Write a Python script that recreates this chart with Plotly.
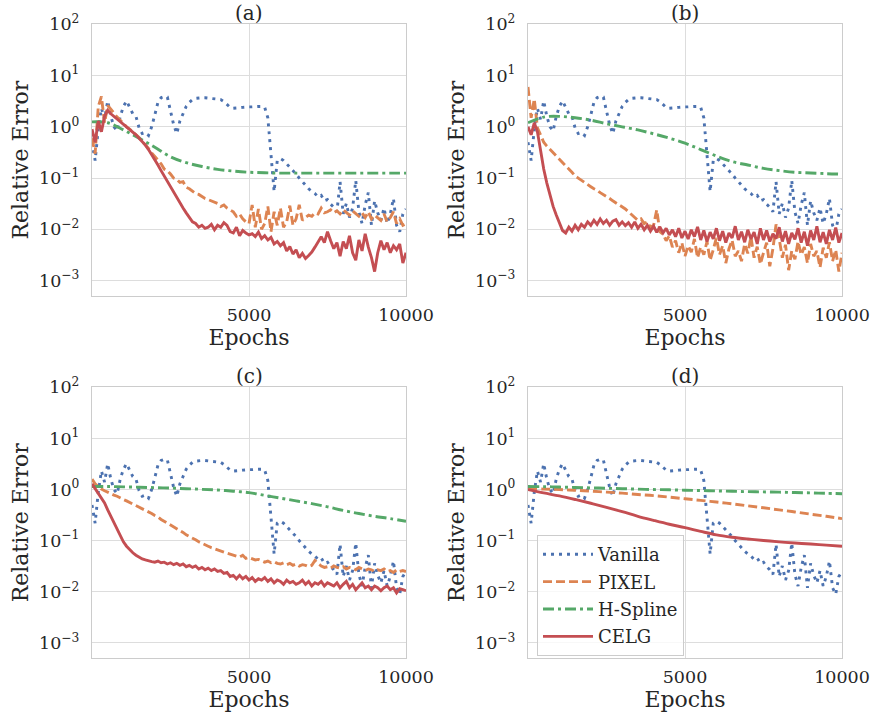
import plotly.graph_objects as go
from plotly.subplots import make_subplots

# ---------------------------------------------------------------- data
# fine grid (every 100 epochs) for the noisy training curves
EPOCHS = list(range(0, 10001, 100))
# coarse grid (every 500 epochs) for the smooth curves
EPOCHS_COARSE = list(range(0, 10001, 500))

PANEL_TITLES = ["(a)", "(b)", "(c)", "(d)"]
METHODS = ["Vanilla", "PIXEL", "H-Spline", "CELG"]

Y_TICK_VALUES = [1e-3, 1e-2, 1e-1, 1e0, 1e1, 1e2]
Y_TICK_LABELS = ["10<sup>−3</sup>", "10<sup>−2</sup>", "10<sup>−1</sup>",
                 "10<sup>0</sup>", "10<sup>1</sup>", "10<sup>2</sup>"]
X_TICK_VALUES = [5000, 10000]
X_TICK_LABELS = ["5000", "10000"]

# Vanilla baseline (same run in every panel)
VANILLA = [
    0.5, 0.22, 0.9, 2.3, 1.4, 3.2, 1.6, 1.0, 0.83, 1.6,
    2.5, 3.2, 2.4, 1.8, 1.6, 0.95, 0.74, 0.78, 0.68, 1.0,
    1.7, 3.0, 3.7, 3.9, 3.8, 2.1, 1.1, 0.74, 1.3, 1.8,
    2.5, 3.0, 3.4, 3.6, 3.7, 3.7, 3.7, 3.65, 3.6, 3.6,
    3.5, 3.4, 3.1, 2.7, 2.4, 2.3, 2.3, 2.35, 2.4, 2.45,
    2.45, 2.45, 2.5, 2.5, 2.5, 2.4, 1.5, 0.25, 0.055, 0.22,
    0.24, 0.22, 0.19, 0.165, 0.14, 0.12, 0.1, 0.085, 0.072, 0.062,
    0.055, 0.05, 0.043, 0.046, 0.036, 0.038, 0.031, 0.027, 0.022, 0.085,
    0.02, 0.032, 0.017, 0.026, 0.09, 0.022, 0.013, 0.03, 0.052, 0.012,
    0.036, 0.021, 0.015, 0.026, 0.013, 0.02, 0.04, 0.012, 0.009, 0.02,
    0.025,
]

# panel (a)
PIXEL_A = [
    0.6, 0.3, 2.5, 3.9, 1.2, 2.6, 2.2, 1.8, 1.55, 1.35,
    1.15, 1.0, 0.9, 0.8, 0.7, 0.62, 0.52, 0.45, 0.38, 0.31,
    0.26, 0.22, 0.19, 0.15, 0.14, 0.12, 0.1, 0.095, 0.082, 0.085,
    0.066, 0.062, 0.056, 0.05, 0.048, 0.043, 0.04, 0.038, 0.036, 0.033,
    0.032, 0.028, 0.03, 0.026, 0.024, 0.022, 0.018, 0.02, 0.016, 0.014,
    0.013, 0.03, 0.011, 0.025, 0.01, 0.013, 0.028, 0.009, 0.022, 0.012,
    0.026, 0.011, 0.014, 0.029, 0.012, 0.016, 0.03, 0.015, 0.017, 0.019,
    0.018, 0.021, 0.02, 0.026, 0.021, 0.022, 0.024, 0.021, 0.023, 0.02,
    0.024, 0.021, 0.019, 0.023, 0.02, 0.018, 0.021, 0.017, 0.022, 0.016,
    0.019, 0.017, 0.015, 0.02, 0.014, 0.017, 0.022, 0.013, 0.016, 0.012,
    0.013,
]
HSPLINE_A = [1.25, 1.2, 0.87, 0.6, 0.4, 0.26, 0.2, 0.168, 0.148, 0.137,
             0.13, 0.127, 0.125, 0.125, 0.125, 0.125, 0.125, 0.125, 0.125,
             0.125, 0.125]
CELG_A = [
    0.9, 0.5, 1.3, 0.8, 1.6, 2.1, 1.8, 1.6, 1.45, 1.3,
    1.15, 1.0, 0.9, 0.8, 0.7, 0.6, 0.52, 0.44, 0.36, 0.29,
    0.23, 0.18, 0.14, 0.11, 0.085, 0.066, 0.052, 0.04, 0.032, 0.026,
    0.021, 0.017, 0.014, 0.013, 0.011, 0.012, 0.0105, 0.011, 0.0125, 0.0098,
    0.012, 0.011, 0.0135, 0.012, 0.009, 0.0085, 0.011, 0.0075, 0.0095, 0.0085,
    0.0078, 0.0082, 0.0072, 0.0088, 0.0066, 0.0075, 0.0062, 0.007, 0.0052, 0.0058,
    0.0048, 0.0055, 0.0038, 0.0046, 0.0033, 0.004, 0.0028, 0.0034, 0.0027, 0.0031,
    0.0036, 0.0045, 0.0058, 0.0072, 0.0055, 0.009, 0.006, 0.0042, 0.0055, 0.003,
    0.0058, 0.0042, 0.0075, 0.0035, 0.0025, 0.0062, 0.0038, 0.0082, 0.0045, 0.0028,
    0.0015, 0.0035, 0.006, 0.004, 0.0055, 0.0035, 0.0048, 0.004, 0.0052, 0.0022,
    0.0035,
]

# panel (b)
PIXEL_B = [
    6.0, 1.5, 3.5, 0.95, 0.7, 0.5, 0.42, 0.36, 0.31, 0.27,
    0.23, 0.2, 0.17, 0.15, 0.13, 0.11, 0.1, 0.09, 0.082, 0.075,
    0.068, 0.062, 0.058, 0.052, 0.048, 0.043, 0.04, 0.036, 0.033, 0.03,
    0.028, 0.025, 0.022, 0.019, 0.017, 0.015, 0.016, 0.013, 0.014, 0.011,
    0.012, 0.024, 0.009, 0.008, 0.006, 0.0075, 0.0045, 0.006, 0.0035, 0.0055,
    0.003, 0.0048, 0.0036, 0.0065, 0.0028, 0.0045, 0.0032, 0.0058, 0.0025, 0.004,
    0.0068, 0.0032, 0.0048, 0.0022, 0.0042, 0.0062, 0.003, 0.0038, 0.0024, 0.0052,
    0.0034, 0.0072, 0.0028, 0.0046, 0.0021, 0.0035, 0.0055, 0.0019, 0.0042, 0.0125,
    0.0065, 0.0028, 0.005, 0.0016, 0.0038, 0.0026, 0.0058, 0.0032, 0.0045, 0.0022,
    0.0052, 0.003, 0.0038, 0.0018, 0.0044, 0.0028, 0.0056, 0.0024, 0.004, 0.0015,
    0.0035,
]
HSPLINE_B = [1.2, 1.55, 1.6, 1.5, 1.35, 1.15, 1.0, 0.87, 0.73, 0.6,
             0.48, 0.36, 0.27, 0.21, 0.18, 0.155, 0.14, 0.13, 0.126,
             0.122, 0.12]
CELG_B = [
    1.0, 0.7, 1.2, 0.8, 0.35, 0.15, 0.08, 0.045, 0.028, 0.019,
    0.013, 0.0095, 0.0085, 0.011, 0.0092, 0.012, 0.0098, 0.0125, 0.011, 0.014,
    0.012, 0.015, 0.0125, 0.016, 0.013, 0.015, 0.012, 0.0145, 0.0155, 0.012,
    0.014, 0.0118, 0.0135, 0.011, 0.014, 0.0105, 0.0125, 0.0098, 0.012, 0.0092,
    0.0115, 0.0088, 0.0112, 0.0085, 0.0105, 0.0078, 0.0098, 0.0072, 0.0105, 0.0068,
    0.0092, 0.0065, 0.0098, 0.0072, 0.0112, 0.0062, 0.0095, 0.0058, 0.0088, 0.0065,
    0.0105, 0.006, 0.0092, 0.0055, 0.0085, 0.0068, 0.0115, 0.0062, 0.009, 0.0056,
    0.0098, 0.0065, 0.0088, 0.0052, 0.0105, 0.0062, 0.0095, 0.0058, 0.0082, 0.0066,
    0.011, 0.0058, 0.0092, 0.0052, 0.0085, 0.0064, 0.0105, 0.0055, 0.009, 0.0048,
    0.0095, 0.0062, 0.0115, 0.0056, 0.0088, 0.0052, 0.0098, 0.0062, 0.0108, 0.0055,
    0.0085,
]

# panel (c)
PIXEL_C = [
    1.6, 1.3, 1.15, 1.02, 0.95, 0.88, 0.82, 0.78, 0.74, 0.68,
    0.64, 0.6, 0.56, 0.52, 0.48, 0.45, 0.42, 0.39, 0.37, 0.34,
    0.31, 0.29, 0.26, 0.24, 0.22, 0.2, 0.185, 0.17, 0.155, 0.145,
    0.13, 0.122, 0.112, 0.104, 0.095, 0.09, 0.083, 0.078, 0.073, 0.07,
    0.066, 0.063, 0.06, 0.057, 0.055, 0.053, 0.05, 0.048, 0.052, 0.045,
    0.047, 0.044, 0.042, 0.043, 0.04, 0.038, 0.04, 0.037, 0.039, 0.036,
    0.035, 0.037, 0.034, 0.036, 0.033, 0.035, 0.032, 0.034, 0.033, 0.031,
    0.033, 0.041, 0.036, 0.032, 0.03, 0.031, 0.029, 0.032, 0.03, 0.029,
    0.031, 0.028, 0.03, 0.029, 0.027, 0.03, 0.028, 0.026, 0.028, 0.027,
    0.025, 0.027, 0.026, 0.028, 0.025, 0.026, 0.024, 0.027, 0.025, 0.026,
    0.025,
]
HSPLINE_C = [1.15, 1.15, 1.13, 1.11, 1.09, 1.07, 1.04, 1.01, 0.98, 0.93,
             0.87, 0.77, 0.68, 0.6, 0.53, 0.46, 0.39, 0.34, 0.3, 0.27, 0.24]
CELG_C = [
    1.3, 1.05, 0.88, 0.7, 0.55, 0.4, 0.3, 0.22, 0.16, 0.12,
    0.095, 0.078, 0.066, 0.058, 0.052, 0.047, 0.044, 0.042, 0.04, 0.039,
    0.038, 0.04, 0.037, 0.038, 0.035, 0.037, 0.034, 0.036, 0.033, 0.035,
    0.031, 0.033, 0.03, 0.032, 0.028, 0.03, 0.027, 0.029, 0.026, 0.028,
    0.025, 0.026, 0.023, 0.024, 0.02, 0.021, 0.018, 0.021, 0.018, 0.02,
    0.017, 0.019, 0.016, 0.018, 0.017, 0.019, 0.016, 0.018, 0.015, 0.017,
    0.016, 0.014, 0.017, 0.015, 0.016, 0.014, 0.015, 0.017, 0.014, 0.016,
    0.013, 0.015, 0.014, 0.016, 0.013, 0.015, 0.014, 0.013, 0.015, 0.012,
    0.014, 0.016, 0.012, 0.014, 0.011, 0.013, 0.015, 0.012, 0.013, 0.011,
    0.013, 0.012, 0.0105, 0.012, 0.013, 0.011, 0.012, 0.0095, 0.0115, 0.011,
    0.0105,
]

# panel (d) -- smooth curves on the coarse grid
PIXEL_D = [1.05, 1.02, 1.0, 0.97, 0.93, 0.89, 0.85, 0.8, 0.76, 0.71,
           0.66, 0.615, 0.57, 0.525, 0.48, 0.44, 0.4, 0.365, 0.33, 0.3, 0.27]
HSPLINE_D = [1.15, 1.14, 1.12, 1.1, 1.08, 1.06, 1.04, 1.02, 1.0, 0.99,
             0.97, 0.955, 0.94, 0.925, 0.91, 0.9, 0.89, 0.875, 0.86, 0.845,
             0.83]
CELG_D = [1.0, 0.86, 0.75, 0.64, 0.54, 0.45, 0.37, 0.3, 0.25, 0.21,
          0.18, 0.152, 0.13, 0.117, 0.108, 0.101, 0.095, 0.09, 0.086, 0.082,
          0.078]

PANELS = [
    {"Vanilla": (EPOCHS, VANILLA), "PIXEL": (EPOCHS, PIXEL_A),
     "H-Spline": (EPOCHS_COARSE, HSPLINE_A), "CELG": (EPOCHS, CELG_A)},
    {"Vanilla": (EPOCHS, VANILLA), "PIXEL": (EPOCHS, PIXEL_B),
     "H-Spline": (EPOCHS_COARSE, HSPLINE_B), "CELG": (EPOCHS, CELG_B)},
    {"Vanilla": (EPOCHS, VANILLA), "PIXEL": (EPOCHS, PIXEL_C),
     "H-Spline": (EPOCHS_COARSE, HSPLINE_C), "CELG": (EPOCHS, CELG_C)},
    {"Vanilla": (EPOCHS, VANILLA), "PIXEL": (EPOCHS_COARSE, PIXEL_D),
     "H-Spline": (EPOCHS_COARSE, HSPLINE_D), "CELG": (EPOCHS_COARSE, CELG_D)},
]

# ---------------------------------------------------------------- styles
FONT = "DejaVu Serif"
TEXT = "#262626"
STYLE = {
    "Vanilla": dict(color="#4C72B0", dash="3px,5px"),
    "PIXEL": dict(color="#DD8452", dash="9px,4px"),
    "H-Spline": dict(color="#55A868", dash="11px,4px,3px,4px"),
    "CELG": dict(color="#C44E52", dash="solid"),
}
W, H = 873, 717
X_DOMAINS = [(92 / W, 406 / W), (528 / W, 842 / W)]
Y_DOMAINS = [(1 - 296 / H, 1 - 24.3 / H), (1 - 658.3 / H, 1 - 387.3 / H)]

fig = make_subplots(rows=2, cols=2)

for k, panel in enumerate(PANELS):
    row, col = k // 2 + 1, k % 2 + 1
    for name in METHODS:
        xs, ys = panel[name]
        smooth = xs is EPOCHS_COARSE
        fig.add_trace(
            go.Scatter(
                x=xs, y=ys, mode="lines", name=name,
                line=dict(color=STYLE[name]["color"], dash=STYLE[name]["dash"],
                          width=2.9, shape="spline" if smooth else "linear"),
                showlegend=(k == 3), legendgroup=name,
            ),
            row=row, col=col,
        )

axis_common = dict(
    showgrid=True, gridcolor="#dddddd", gridwidth=1.1,
    showline=True, mirror=True, linecolor="#cccccc", linewidth=1.3,
    zeroline=False, ticks="", automargin=False,
    tickfont=dict(family=FONT, size=17.5, color=TEXT),
)

for k in range(4):
    r, c = k // 2, k % 2
    sfx = "" if k == 0 else str(k + 1)
    fig.layout["xaxis" + sfx].update(
        domain=X_DOMAINS[c], range=[0, 10000],
        tickmode="array", tickvals=X_TICK_VALUES, ticktext=X_TICK_LABELS,
        ticklabelstandoff=3,
        title=dict(text="Epochs", font=dict(family=FONT, size=22, color=TEXT),
                   standoff=5),
        **axis_common,
    )
    fig.layout["yaxis" + sfx].update(
        domain=Y_DOMAINS[r], type="log", range=[-3.3, 2.0],
        tickmode="array", tickvals=Y_TICK_VALUES, ticktext=Y_TICK_LABELS,
        ticklabelstandoff=8,
        title=dict(text="Relative Error",
                   font=dict(family=FONT, size=22, color=TEXT), standoff=4),
        **axis_common,
    )
    fig.add_annotation(
        text=PANEL_TITLES[k], showarrow=False,
        x=sum(X_DOMAINS[c]) / 2, xref="paper", xanchor="center",
        y=Y_DOMAINS[r][1] + 11 / H, yref="paper", yanchor="middle",
        font=dict(family=FONT, size=20, color=TEXT),
    )

fig.update_layout(
    width=W, height=H, margin=dict(l=0, r=0, t=0, b=0),
    paper_bgcolor="white", plot_bgcolor="white",
    font=dict(family=FONT, color=TEXT),
    legend=dict(
        x=537 / W, y=1 - 535 / H, xanchor="left", yanchor="top",
        bgcolor="rgba(255,255,255,0.8)", bordercolor="#cccccc", borderwidth=1,
        font=dict(family=FONT, size=18, color=TEXT),
        tracegroupgap=1, itemwidth=50,
    ),
)

fig.write_html("out.html")
